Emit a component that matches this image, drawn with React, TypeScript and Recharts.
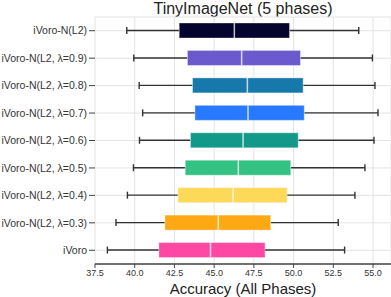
import { Bar, BarChart, CartesianGrid, XAxis, YAxis } from "recharts";

const methods = [
  "iVoro-N(L2)",
  "iVoro-N(L2, λ=0.9)",
  "iVoro-N(L2, λ=0.8)",
  "iVoro-N(L2, λ=0.7)",
  "iVoro-N(L2, λ=0.6)",
  "iVoro-N(L2, λ=0.5)",
  "iVoro-N(L2, λ=0.4)",
  "iVoro-N(L2, λ=0.3)",
  "iVoro",
];
const whiskerLow = [39.5, 39.94, 40.28, 40.5, 40.3, 39.92, 39.54, 38.82, 38.28];
const q1 = [42.8, 43.32, 43.64, 43.79, 43.51, 43.18, 42.72, 41.9, 41.52];
const median = [46.27, 46.73, 47.09, 47.13, 46.82, 46.52, 46.19, 45.26, 44.77];
const q3 = [49.74, 50.43, 50.6, 50.67, 50.29, 49.82, 49.59, 48.56, 48.2];
const whiskerHigh = [54.1, 54.96, 55.12, 55.31, 55.06, 54.49, 53.86, 52.81, 53.21];
const colors = [
  "#04042e",
  "#6a5acd",
  "#1778ac",
  "#2979ff",
  "#13998a",
  "#33c283",
  "#fdd95a",
  "#fea914",
  "#ff48a3",
];
const xTicks = [37.5, 40, 42.5, 45, 47.5, 50, 52.5, 55];

const data = methods.map((name, i) => ({
  name,
  low: whiskerLow[i],
  q1: q1[i],
  median: median[i],
  q3: q3[i],
  high: whiskerHigh[i],
  color: colors[i],
}));

const FONT = "'Liberation Sans', Arial, Helvetica, sans-serif";

function BoxShape(props: any) {
  const { x, y, width, height, payload } = props;
  const p = payload;
  const span = p.high - p.low;
  const px = (v: number) => x + ((v - p.low) / span) * width;
  const cy = y + height / 2;
  const xl = px(p.low);
  const x1 = px(p.q1);
  const xm = px(p.median);
  const x3 = px(p.q3);
  const xh = px(p.high);
  const cap = 3.5;
  return (
    <g>
      <line x1={xl} x2={x1} y1={cy} y2={cy} stroke="#333" strokeWidth={1.4} />
      <line x1={x3} x2={xh} y1={cy} y2={cy} stroke="#333" strokeWidth={1.4} />
      <line x1={xl} x2={xl} y1={cy - cap} y2={cy + cap} stroke="#333" strokeWidth={1.4} />
      <line x1={xh} x2={xh} y1={cy - cap} y2={cy + cap} stroke="#333" strokeWidth={1.4} />
      <rect
        x={x1}
        y={y}
        width={x3 - x1}
        height={height}
        fill={p.color}
        stroke="rgba(255,255,255,0.35)"
        strokeWidth={1}
      />
      <line
        x1={xm}
        x2={xm}
        y1={y}
        y2={y + height}
        stroke="rgba(255,255,255,0.75)"
        strokeWidth={1.5}
      />
    </g>
  );
}

function CategoryTick(props: any) {
  const { x, y, payload } = props;
  return (
    <text x={x} y={y} dy="0.355em" textAnchor="end" fontSize={10.5} fill="#333">
      {payload.value}
    </text>
  );
}

export default function App() {
  return (
    <div style={{ position: "relative", width: 391, height: 297, fontFamily: FONT }}>
      <style>{`body{margin:0}`}</style>
      <div
        style={{
          position: "absolute",
          left: 95,
          right: 0,
          top: 0,
          textAlign: "center",
          fontSize: 16,
          color: "#222",
          lineHeight: "18px",
        }}
      >
        TinyImageNet (5 phases)
      </div>
      <BarChart
        width={391}
        height={297}
        data={data}
        layout="vertical"
        margin={{ top: 17, right: 0, left: 0, bottom: 3 }}
        barCategoryGap={0}
        style={{ fontFamily: FONT }}
      >
        <CartesianGrid stroke="#e3e3e3" strokeWidth={1} />
        <XAxis
          type="number"
          domain={[37.5, 56.13]}
          ticks={xTicks}
          tickFormatter={(v: number) => v.toFixed(1)}
          allowDataOverflow
          height={30}
          tick={{ fontSize: 9, fill: "#333" }}
          tickSize={4}
          tickMargin={2}
          axisLine={{ stroke: "#444", strokeWidth: 1.5 }}
          tickLine={{ stroke: "#444" }}
          label={{
            value: "Accuracy (All Phases)",
            position: "insideBottom",
            offset: 0,
            style: { fontSize: 15, fill: "#222", textAnchor: "middle" },
          }}
        />
        <YAxis
          type="category"
          dataKey="name"
          width={95}
          tick={<CategoryTick />}
          tickSize={6}
          tickMargin={2}
          axisLine={false}
          tickLine={{ stroke: "#444" }}
        />
        <Bar
          dataKey={(d: any) => [d.low, d.high]}
          barSize={15}
          shape={<BoxShape />}
          isAnimationActive={false}
        />
      </BarChart>
    </div>
  );
}
